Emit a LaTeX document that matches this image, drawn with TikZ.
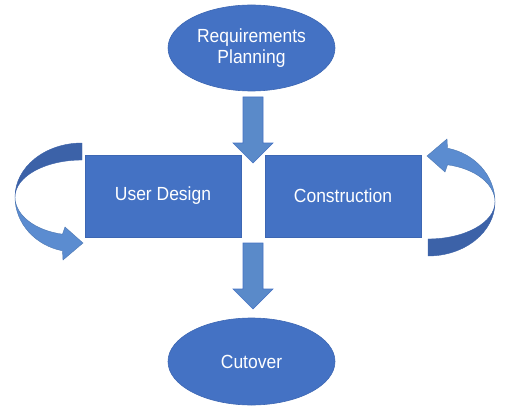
\documentclass[tikz,border=0pt]{standalone}
\usepackage{fontspec}
\setmainfont[FakeStretch=0.92]{Liberation Sans}
\usetikzlibrary{shapes.geometric}
\definecolor{boxblue}{HTML}{4472C4}
\definecolor{edgeblue}{HTML}{3D67B3}
\definecolor{arrowblue}{HTML}{5A8AC9}
\definecolor{backblue}{HTML}{3C62A8}
\definecolor{frontblue}{HTML}{5B8CD0}
\begin{document}
\begin{tikzpicture}[x=1pt,y=1pt,
  labeltext/.style={text=white, font=\fontsize{19}{21.7}\selectfont, align=center},
  stagebox/.style={labeltext, rectangle, fill=boxblue, draw=edgeblue, line width=0.6pt,
    minimum width=156pt, minimum height=82pt, inner sep=0pt},
  stageoval/.style={labeltext, ellipse, fill=boxblue, draw=edgeblue, line width=0.6pt,
    minimum width=167pt, minimum height=86pt, inner sep=0pt},
  blockarrow/.style={fill=arrowblue, draw=boxblue, line width=0.6pt},
  backband/.style={fill=backblue, draw=backblue, line width=0.4pt},
  frontband/.style={fill=frontblue, draw=frontblue!85!black, line width=0.4pt},
  downarrow/.pic={
    \path[blockarrow] (-10,0) -- (10,0) -- (10,-46) -- (20,-46) -- (0,-66)
      -- (-20,-46) -- (-10,-46) -- cycle;
  },
  loopback/.pic={
    % far side of the curved arrow
    \path[backband] (82,270) arc[start angle=90, end angle=180, x radius=67, y radius=54]
      arc[start angle=180, end angle=90, x radius=67, y radius=37] -- cycle;
    % near side with its head
    \path[frontband] (15,216) arc[start angle=180, end angle=258, x radius=60, y radius=55]
      -- (63,153) -- (83,170) -- (65,186) -- (62.5,178.8)
      arc[start angle=258, end angle=180, x radius=60, y radius=38] -- cycle;
  }]
\useasboundingbox (0,0) rectangle (516,413);

% stages
\node[stageoval] (req) at (251.5,365) {Requirements\\Planning};
\node[stagebox] (design) at (163,217) {User Design};
\node[stagebox] (build) at (343,217) {Construction};
\node[stageoval, minimum height=87pt] (cut) at (251.5,51.5) {Cutover};

% flow between the stages
\pic at (253,316) {downarrow};
\pic at (253,170) {downarrow};

% iteration loops beside the two middle stages
\pic at (0,0) {loopback};
\pic[transform shape, rotate around={180:(255,213.5)}] at (0,0) {loopback};
\end{tikzpicture}
\end{document}
